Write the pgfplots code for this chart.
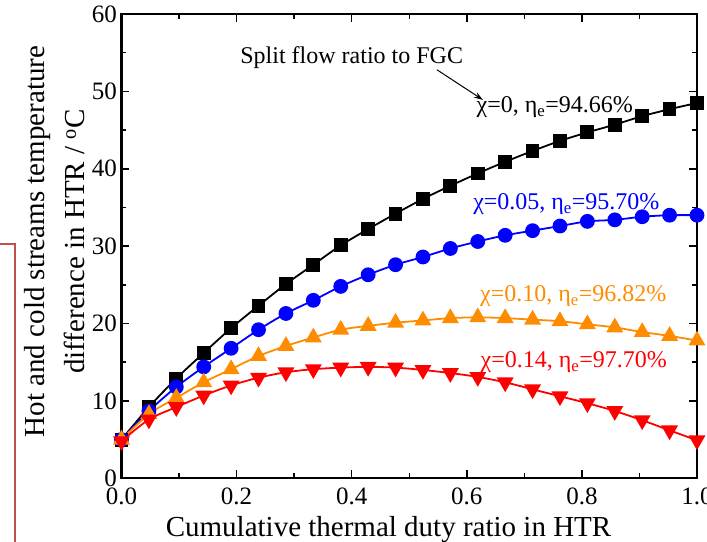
\documentclass[border=0pt]{standalone}
\usepackage{fontspec}
\setmainfont{Liberation Serif}
\usepackage{pgfplots}
\pgfplotsset{compat=1.18}
\usetikzlibrary{calc,arrows.meta}

\definecolor{cblack}{RGB}{0,0,0}
\definecolor{cblue}{RGB}{0,0,255}
\definecolor{corange}{RGB}{255,140,0}
\definecolor{cred}{RGB}{255,0,0}
\definecolor{frame}{RGB}{192,80,77}

\begin{document}
\begin{tikzpicture}
\begin{axis}[
  name=ax,
  scale only axis,
  width=575.5pt,height=464.3pt,
  xmin=0,xmax=1,ymin=0,ymax=60,
  xtick={0,0.2,...,1.0},
  ytick={0,10,...,60},
  minor x tick num=1,
  minor y tick num=1,
  tick align=inside,
  major tick length=8pt,
  minor tick length=5pt,
  every tick/.style={line width=1.5pt,black},
  axis line style={line width=2.2pt},
  xticklabel style={/pgf/number format/fixed,/pgf/number format/fixed zerofill,/pgf/number format/precision=1},
  /pgf/number format/assume math mode=true,
  tick label style={font=\fontsize{25}{28}\selectfont},
  xticklabel style={yshift=-6pt},
  yticklabel style={xshift=-1pt},
  xlabel={Cumulative thermal duty ratio in HTR},
  ylabel={Hot and cold streams temperature\\difference in HTR / \textsuperscript{o}C},
  label style={font=\fontsize{29}{40}\selectfont},
  xlabel style={at={(axis description cs:0.464,0)},anchor=center,yshift=-51pt},
  ylabel style={at={(axis description cs:-0.1156,0.51)},anchor=center,align=center},
  clip=false,
]
\addplot[cblack,line width=1.8pt,smooth,mark=square*,mark size=6pt,mark options={solid}] coordinates {
  (0.00000,5.0) (0.04762,9.2) (0.09524,12.9) (0.14286,16.2) (0.19048,19.4) (0.23810,22.3)
  (0.28571,25.1) (0.33333,27.6) (0.38095,30.1) (0.42857,32.2) (0.47619,34.2) (0.52381,36.1)
  (0.57143,37.8) (0.61905,39.4) (0.66667,40.9) (0.71429,42.3) (0.76190,43.6) (0.80952,44.7)
  (0.85714,45.7) (0.90476,46.8) (0.95238,47.7) (1.00000,48.5)
};
\addplot[cblue,line width=1.8pt,smooth,mark=*,mark size=6.5pt] coordinates {
  (0.00000,5.0) (0.04762,8.7) (0.09524,11.8) (0.14286,14.4) (0.19048,16.8) (0.23810,19.2)
  (0.28571,21.3) (0.33333,23.0) (0.38095,24.8) (0.42857,26.3) (0.47619,27.6) (0.52381,28.6)
  (0.57143,29.7) (0.61905,30.6) (0.66667,31.4) (0.71429,32.0) (0.76190,32.6) (0.80952,33.2)
  (0.85714,33.4) (0.90476,33.8) (0.95238,34.0) (1.00000,34.0)
};
\addplot[corange,line width=1.8pt,smooth,mark=triangle*,mark size=8pt] coordinates {
  (0.00000,5.0) (0.04762,8.3) (0.09524,10.4) (0.14286,12.4) (0.19048,14.1) (0.23810,15.8)
  (0.28571,17.1) (0.33333,18.2) (0.38095,19.2) (0.42857,19.7) (0.47619,20.1) (0.52381,20.4)
  (0.57143,20.7) (0.61905,20.8) (0.66667,20.7) (0.71429,20.5) (0.76190,20.3) (0.80952,19.9)
  (0.85714,19.5) (0.90476,18.9) (0.95238,18.4) (1.00000,17.8)
};
\addplot[cred,line width=1.8pt,smooth,mark=triangle*,mark size=8pt,mark options={rotate=180}] coordinates {
  (0.00000,4.8) (0.04762,7.6) (0.09524,9.2) (0.14286,10.7) (0.19048,12.0) (0.23810,13.0)
  (0.28571,13.7) (0.33333,14.1) (0.38095,14.3) (0.42857,14.4) (0.47619,14.3) (0.52381,14.0)
  (0.57143,13.6) (0.61905,13.1) (0.66667,12.4) (0.71429,11.5) (0.76190,10.6) (0.80952,9.7)
  (0.85714,8.7) (0.90476,7.5) (0.95238,6.2) (1.00000,4.9)
};
\node[font=\fontsize{24}{28}\selectfont] at (axis cs:0.40,54.4) {Split flow ratio to FGC};
\draw[-{Stealth[length=9pt,width=6pt]},line width=1pt] (axis cs:0.548,52.8) -- (axis cs:0.628,48.9);
\node[font=\fontsize{24}{28}\selectfont,text=cblack] at (axis cs:0.753,48.0) {χ=0, η\textsubscript{e}=94.66\%};
\node[font=\fontsize{24}{28}\selectfont,text=cblue] at (axis cs:0.773,35.45) {χ=0.05, η\textsubscript{e}=95.70\%};
\node[font=\fontsize{24}{28}\selectfont,text=corange] at (axis cs:0.785,23.56) {χ=0.10, η\textsubscript{e}=96.82\%};
\node[font=\fontsize{24}{28}\selectfont,text=cred] at (axis cs:0.786,15.0) {χ=0.14, η\textsubscript{e}=97.70\%};
\end{axis}
\draw[frame,line width=1.5pt] ($(ax.south west)+(-121.5pt,234.3pt)$) -- ($(ax.south west)+(-106.5pt,234.3pt)$) -- ($(ax.south west)+(-106.5pt,-63.7pt)$);
\pgfresetboundingbox
\path[use as bounding box] ($(ax.south west)+(-121.5pt,-63.7pt)$) rectangle ($(ax.north east)+(10pt,14pt)$);
\end{tikzpicture}
\end{document}
